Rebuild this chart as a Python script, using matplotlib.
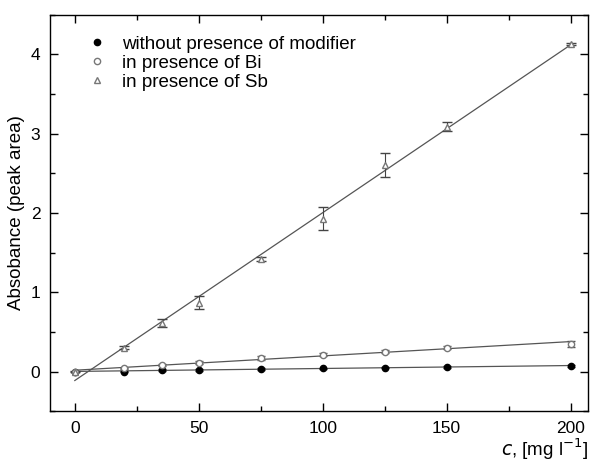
import numpy as np
import matplotlib.pyplot as plt
from matplotlib.ticker import MultipleLocator

plt.rcParams['font.family'] = ['Liberation Sans', 'DejaVu Sans']

# concentrations, mg/l
conc = [0, 20, 35, 50, 75, 100, 125, 150, 200]

# absorbance (peak area)
abs_none = [0.00, 0.00, 0.02, 0.02, 0.03, 0.04, 0.05, 0.06, 0.07]
abs_bi = [0.00, 0.04, 0.08, 0.11, 0.17, 0.21, 0.25, 0.30, 0.35]
abs_sb = [0.00, 0.30, 0.61, 0.87, 1.42, 1.93, 2.61, 3.09, 4.13]

# standard deviations
err_none = [0.0, 0.01, 0.01, 0.01, 0.01, 0.01, 0.01, 0.01, 0.01]
err_bi = [0.0, 0.01, 0.01, 0.02, 0.02, 0.02, 0.02, 0.02, 0.04]
err_sb = [0.01, 0.02, 0.05, 0.08, 0.03, 0.14, 0.15, 0.06, 0.01]

fig = plt.figure(figsize=(5.92, 4.63), dpi=100)
ax = fig.add_axes([0.0845, 0.112, 0.9085, 0.856])

grey = '#555555'
x = np.array(conc)

# linear fits
for y in (abs_none, abs_bi, abs_sb):
    k, q = np.polyfit(x, y, 1)
    ax.plot([0, 200], [q, k * 200 + q], color=grey, lw=0.9, zorder=1)

ax.errorbar(conc, abs_none, yerr=err_none, fmt='o', ms=4.5, color='black',
            ecolor='#333333', elinewidth=0.8, capsize=3, label='without presence of modifier', zorder=3)
ax.errorbar(conc, abs_bi, yerr=err_bi, fmt='o', ms=4.5, mfc='white', mec='#777777',
            ecolor='#555555', elinewidth=0.8, capsize=3, label='in presence of Bi', zorder=3)
ax.errorbar(conc, abs_sb, yerr=err_sb, fmt='^', ms=5, mfc='white', mec='#777777',
            ecolor='#444444', elinewidth=0.8, capsize=3.5, label='in presence of Sb', zorder=3)

ax.set_xlim(-10, 207)
ax.set_ylim(-0.5, 4.5)
ax.xaxis.set_major_locator(MultipleLocator(50))
ax.xaxis.set_minor_locator(MultipleLocator(25))
ax.yaxis.set_major_locator(MultipleLocator(1))
ax.yaxis.set_minor_locator(MultipleLocator(0.5))
ax.tick_params(which='both', direction='in', top=True, right=True, labelsize=12.5, pad=7)
ax.tick_params(which='major', length=6, width=1)
ax.tick_params(which='minor', length=3.5, width=1)
for s in ax.spines.values():
    s.set_linewidth(1)

ax.set_ylabel('Absobance (peak area)', fontsize=13.5, labelpad=4)
ax.set_xlabel(r'$c$, [mg l$^{-1}$]', fontsize=13.5, labelpad=1)
ax.xaxis.set_label_coords(1.0, -0.065)
ax.xaxis.label.set_horizontalalignment('right')

handles, labels = ax.get_legend_handles_labels()
handles = [h[0] for h in handles]
ax.legend(handles, labels, loc='upper left', bbox_to_anchor=(0.03, 0.99), frameon=False,
          fontsize=13.5, handletextpad=0.6, labelspacing=0.1, handlelength=1.5)

plt.savefig('out.png', dpi=100)
